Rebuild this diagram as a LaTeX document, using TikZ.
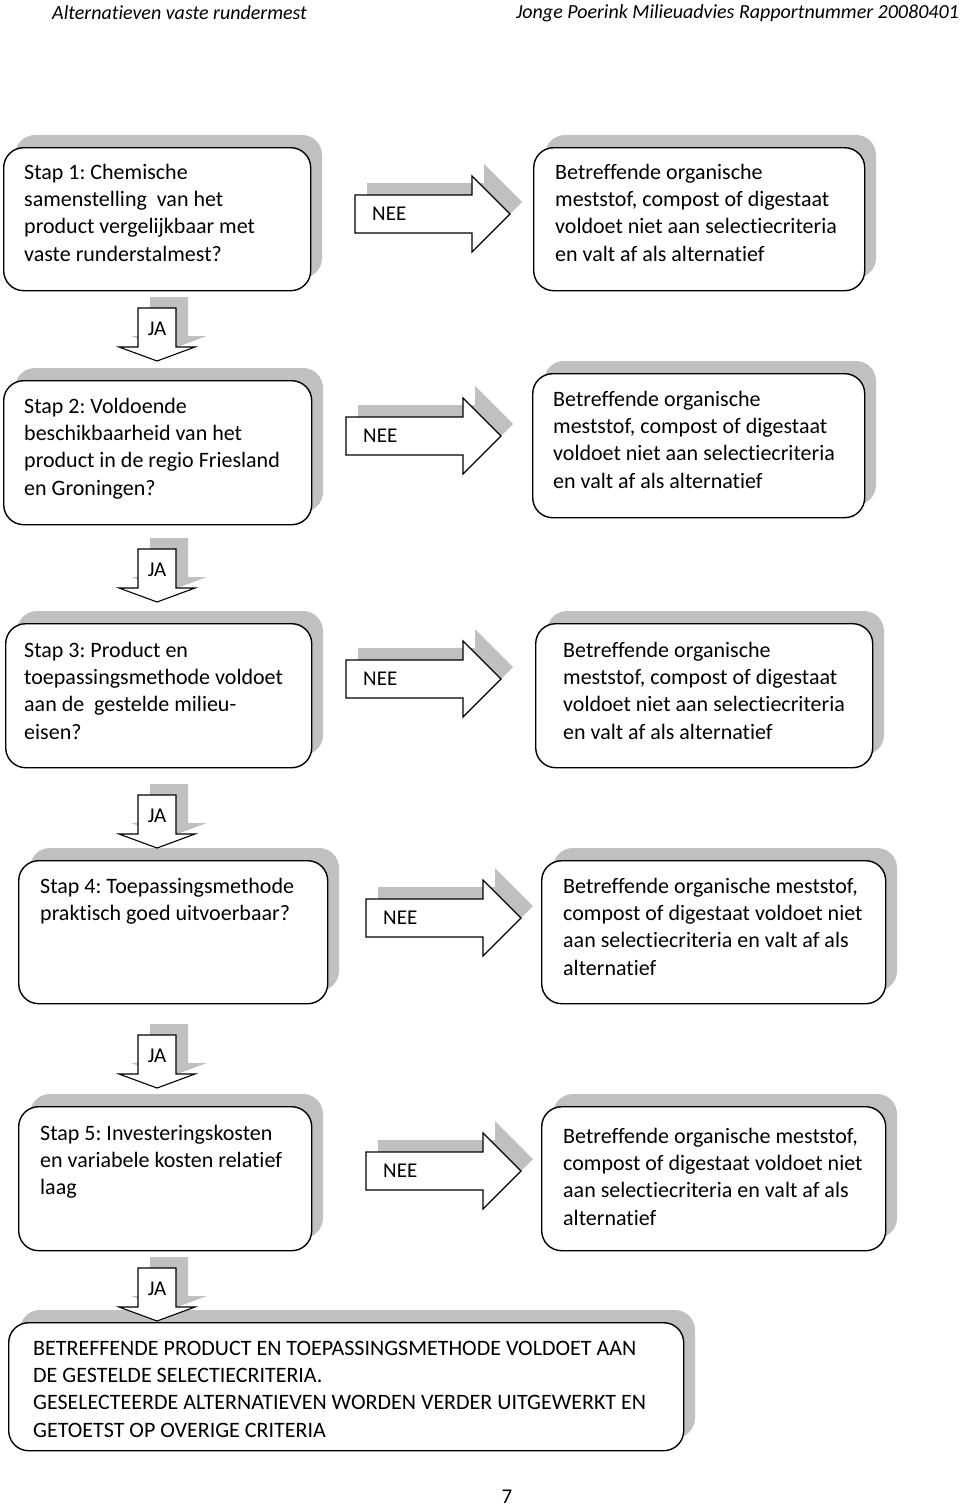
\documentclass[tikz,border=0pt]{standalone}
\usepackage{fontspec}
\setmainfont{Carlito}[Ligatures=NoCommon]
\frenchspacing
\definecolor{shadowc}{HTML}{C0C0C0}
\tikzset{
  box/.style={draw=black, line width=1.4pt, rounded corners=20pt, fill=white, anchor=north west, inner sep=0pt},
  boxshadow/.style={fill=shadowc, rounded corners=20pt},
  txt/.style={anchor=north west, inner sep=0pt, align=left, font=\fontsize{22}{27.3}\selectfont},
  arr/.style={draw=black, line width=1.1pt, fill=white},
  lbl/.style={inner sep=0pt, font=\fontsize{21}{24}\selectfont},
  hdr/.style={inner sep=0pt, font=\fontsize{20}{24}\selectfont\itshape},
  nee/.pic={
    \fill[shadowc] (12,-31) -- (129,-31) -- (129,-50) -- (167,-12) -- (129,26) -- (129,7) -- (12,7) -- cycle;
    \draw[arr] (0,-19) -- (117,-19) -- (117,-38) -- (155,0) -- (117,38) -- (117,19) -- (0,19) -- cycle;
    \node[lbl, anchor=west] (-t) at (17,0) {NEE};
  },
  ja/.pic={
    \fill[shadowc] (-7,-11) -- (31,-11) -- (31,28) -- (50,28) -- (12,42) -- (-26,28) -- (-7,28) -- cycle;
    \draw[arr] (-19,0) -- (19,0) -- (19,39) -- (38,39) -- (0,53) -- (-38,39) -- (-19,39) -- cycle;
    \node[lbl] (-t) at (0,21) {JA};
  }
}
\newcommand\flowbox[5]{%
  \fill[boxshadow] (#2+12,#3-12) rectangle (#4+12,#5-12);
  \node[box, minimum width={#4-#2}, minimum height={#5-#3}] (#1) at (#2,#3) {};
}
\begin{document}
\begin{tikzpicture}[x=1pt,y=-1pt]
\useasboundingbox (0,0) rectangle (960,1509);

% header
\node[hdr, anchor=west] (h1) at (52,13) {Alternatieven vaste rundermest};
\node[hdr, anchor=east] (h2) at (959,13) {Jonge Poerink Milieuadvies Rapportnummer 20080401};

% boxes
\flowbox{b1l}{3}{147}{310}{290}
\flowbox{b1r}{533}{147}{864}{290}
\flowbox{b2l}{3}{380}{311}{524}
\flowbox{b2r}{532}{373}{864}{517}
\flowbox{b3l}{5}{623}{311}{767}
\flowbox{b3r}{535}{623}{872}{767}
\flowbox{b4l}{18}{860}{327}{1003}
\flowbox{b4r}{541}{860}{885}{1003}
\flowbox{b5l}{18}{1106}{311}{1250}
\flowbox{b5r}{541}{1106}{885}{1250}
\flowbox{bf}{8}{1322}{683}{1450}

% texts
\node[txt] (t1l) at (24,160) {\strut Stap 1: Chemische\\samenstelling\ \ van het\\product vergelijkbaar met\\vaste runderstalmest?};
\node[txt] (t1r) at (555,160) {\strut Betreffende organische\\meststof, compost of digestaat\\voldoet niet aan selectiecriteria\\en valt af als alternatief};
\node[txt] (t2l) at (24,394) {\strut Stap 2: Voldoende\\beschikbaarheid van het\\product in de regio Friesland\\en Groningen?};
\node[txt] (t2r) at (553,387) {\strut Betreffende organische\\meststof, compost of digestaat\\voldoet niet aan selectiecriteria\\en valt af als alternatief};
\node[txt] (t3l) at (24,638) {\strut Stap 3: Product en\\toepassingsmethode voldoet\\aan de\ \ gestelde milieu-\\eisen?};
\node[txt] (t3r) at (563,638) {\strut Betreffende organische\\meststof, compost of digestaat\\voldoet niet aan selectiecriteria\\en valt af als alternatief};
\node[txt] (t4l) at (40,874) {\strut Stap 4: Toepassingsmethode\\praktisch goed uitvoerbaar?};
\node[txt] (t4r) at (563,874) {\strut Betreffende organische meststof,\\compost of digestaat voldoet niet\\aan selectiecriteria en valt af als\\alternatief};
\node[txt] (t5l) at (40,1121) {\strut Stap 5: Investeringskosten\\en variabele kosten relatief\\laag};
\node[txt] (t5r) at (563,1124) {\strut Betreffende organische meststof,\\compost of digestaat voldoet niet\\aan selectiecriteria en valt af als\\alternatief};
\node[txt] (tf) at (33,1336) {\strut BETREFFENDE PRODUCT EN TOEPASSINGSMETHODE VOLDOET AAN\\DE GESTELDE SELECTIECRITERIA.\\GESELECTEERDE ALTERNATIEVEN WORDEN VERDER UITGEWERKT EN\\GETOETST OP OVERIGE CRITERIA};

% arrows
\pic (n1) at (355,214) {nee};
\pic (n2) at (346,436) {nee};
\pic (n3) at (346,679) {nee};
\pic (n4) at (366,918) {nee};
\pic (n5) at (366,1171) {nee};
\pic (j1) at (157,308) {ja};
\pic (j2) at (157,549) {ja};
\pic (j3) at (157,795) {ja};
\pic (j4) at (157,1035) {ja};
\pic (j5) at (157,1268) {ja};

% page number
\node[lbl] (pg) at (507,1497) {7};
\end{tikzpicture}
\end{document}
